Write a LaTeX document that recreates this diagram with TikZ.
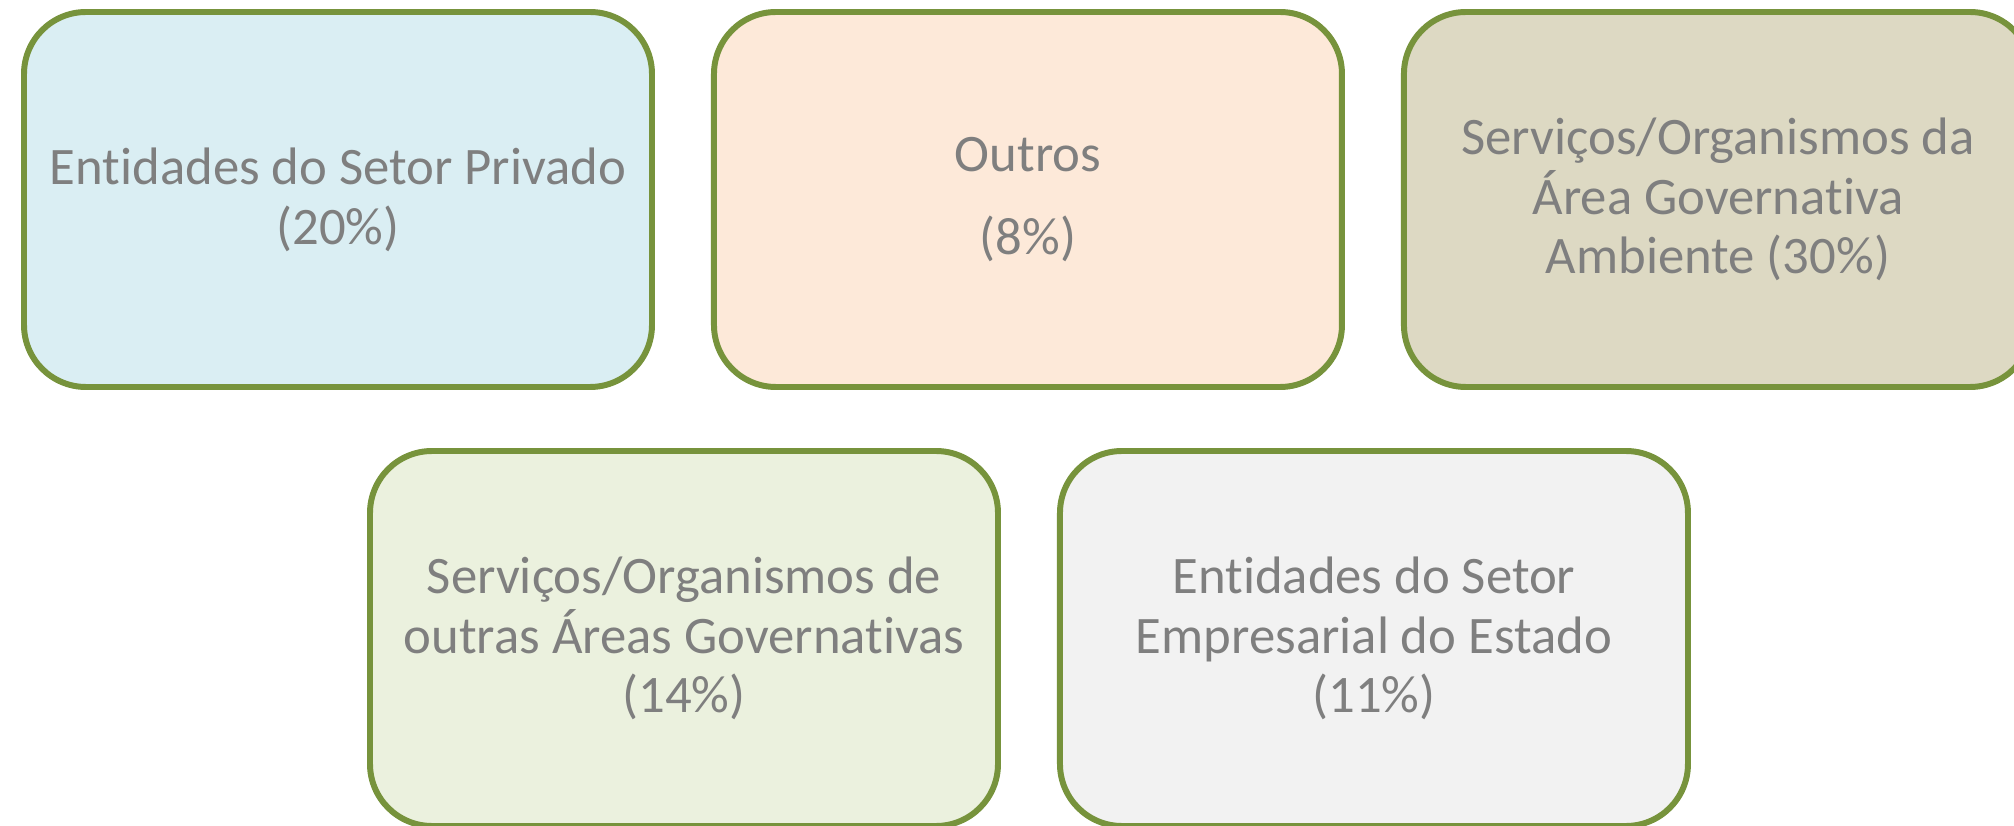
\documentclass[tikz,border=0pt]{standalone}
\usepackage{fontspec}
\setmainfont{Carlito}[Ligatures=NoCommon]
\usepackage{tikz}
\usetikzlibrary{positioning}

\definecolor{olivegreen}{HTML}{77933C}
\definecolor{textgray}{HTML}{7F7F7F}
\definecolor{fillblue}{HTML}{DAEEF3}
\definecolor{fillpeach}{HTML}{FDE9D9}
\definecolor{filltan}{HTML}{DDD9C3}
\definecolor{fillgreen}{HTML}{EBF1DE}
\definecolor{fillgray}{HTML}{F2F2F2}

\begin{document}
\begin{tikzpicture}[
  node distance=0.56cm,
  entity/.style={rectangle, rounded corners=0.62cm, draw=olivegreen, line width=1.7pt, minimum width=6.28cm, minimum height=3.75cm, align=center, text=textgray, font=\fontsize{15}{17}\selectfont}
]
\clip (0,0) rectangle (20.14,8.25);

% top row
\node[entity, fill=fillblue] (privado) at (3.38,6.255) {Entidades do Setor Privado\\(20\%)};
\node[entity, fill=fillpeach, right=of privado] (outros) {Outros\\[6.5pt](8\%)};
\node[entity, fill=filltan, right=of outros] (ambiente) {Serviços/Organismos da\\Área Governativa\\Ambiente (30\%)};

% bottom row
\node[entity, fill=fillgreen] (outrasareas) at (6.84,1.865) {Serviços/Organismos de\\outras Áreas Governativas\\(14\%)};
\node[entity, fill=fillgray, right=of outrasareas] (empresarial) {Entidades do Setor\\Empresarial do Estado\\(11\%)};
\end{tikzpicture}
\end{document}
